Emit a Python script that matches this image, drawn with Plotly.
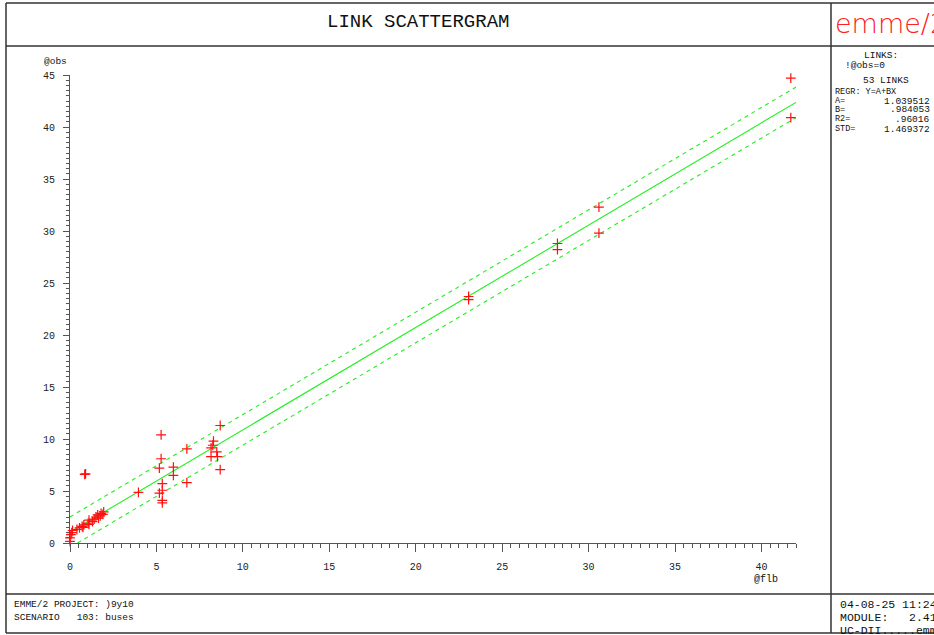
import plotly.graph_objects as go

# ---------------- data ----------------
flb = [41.7, 41.7, 30.6, 30.6, 28.2, 28.2, 23.06, 23.06,
       3.96,
       5.17, 5.27, 5.27, 5.17, 5.34, 5.34, 5.34, 5.34,
       5.98, 5.98, 6.76, 6.76,
       8.16, 8.16, 8.30, 8.26, 8.49, 8.53, 8.69, 8.69,
       0.85, 0.90,
       0.0, 0.0, 0.05, 0.10, 0.15, 0.40, 0.55, 0.70, 0.80, 0.75, 1.05,
       1.10, 1.10, 1.30, 1.40, 1.50, 1.60, 1.65, 1.75, 1.80, 1.90, 1.95]
obs = [44.7, 40.9, 32.3, 29.8, 28.8, 28.2, 23.7, 23.4,
       4.87,
       7.2, 10.4, 8.1, 4.8, 5.07, 5.7, 4.1, 3.85,
       7.3, 6.5, 9.05, 5.8,
       8.3, 9.15, 9.8, 9.4, 8.77, 8.3, 11.3, 7.06,
       6.6, 6.65,
       0.15, 0.5, 0.8, 1.0, 1.2, 1.3, 1.45, 1.6, 1.75, 1.5, 1.9,
       2.2, 1.8, 2.05, 2.3, 2.5, 2.7, 2.4, 2.6, 2.85, 2.75, 3.0]

REG_A = 1.039512
REG_B = 0.984053
REG_R2 = 0.96016
REG_STD = 1.469372
X_MAX = 42
Y_MAX = 45

x_ticks = [0, 5, 10, 15, 20, 25, 30, 35, 40]
y_ticks = [0, 5, 10, 15, 20, 25, 30, 35, 40, 45]

# ---------------- layout geometry (pixels) ----------------
W, H = 934, 635
L, R, T, B = 70, 796, 75, 543


def px(x):
    return (x - L) / (R - L)


def py(y):
    return (B - y) / (B - T)


fig = go.Figure()

# regression lines
green = "#22ee22"
fig.add_trace(go.Scatter(x=[0, X_MAX], y=[REG_A, REG_A + REG_B * X_MAX],
                         mode="lines", line=dict(color=green, width=1.1),
                         hoverinfo="skip", showlegend=False))
fig.add_trace(go.Scatter(x=[0, X_MAX], y=[REG_A + REG_STD, REG_A + REG_STD + REG_B * X_MAX],
                         mode="lines", line=dict(color=green, width=1.1, dash="4px,4px"),
                         hoverinfo="skip", showlegend=False))
x0_low = -(REG_A - REG_STD) / REG_B
fig.add_trace(go.Scatter(x=[x0_low, X_MAX], y=[0, REG_A - REG_STD + REG_B * X_MAX],
                         mode="lines", line=dict(color=green, width=1.1, dash="4px,4px"),
                         hoverinfo="skip", showlegend=False))

# points
fig.add_trace(go.Scatter(x=flb, y=obs, mode="markers", cliponaxis=False,
                         marker=dict(symbol="cross-thin", size=7,
                                     line=dict(color="#ff1010", width=1.2)),
                         showlegend=False))

mono = "Liberation Mono"
axis_common = dict(showgrid=False, zeroline=False, showline=True,
                   linecolor="#555", linewidth=1.2, ticks="outside",
                   tickcolor="#555", tickwidth=1.2,
                   tickfont=dict(family=mono, size=10, color="#222"))

fig.update_xaxes(range=[0, X_MAX], tickvals=x_ticks, ticklen=8,
                 minor=dict(dtick=0.5, tick0=0, ticklen=4, ticks="outside",
                            tickcolor="#555", tickwidth=1),
                 ticklabelstandoff=6, **axis_common)
fig.update_yaxes(range=[0, Y_MAX], tickvals=y_ticks, ticklen=6,
                 minor=dict(dtick=0.5, tick0=0, ticklen=3, ticks="outside",
                            tickcolor="#555", tickwidth=1),
                 ticklabelstandoff=6, **axis_common)

# frame lines
frame = "#333"
shapes = []


def hline(y, x0, x1, w=1.5, c=frame):
    shapes.append(dict(type="line", xref="paper", yref="paper",
                       x0=px(x0), x1=px(x1), y0=py(y), y1=py(y),
                       line=dict(color=c, width=w)))


def vline(x, y0, y1, w=1.5, c=frame):
    shapes.append(dict(type="line", xref="paper", yref="paper",
                       x0=px(x), x1=px(x), y0=py(y0), y1=py(y1),
                       line=dict(color=c, width=w)))


hline(3, 6, 934)
hline(46, 6, 934)
hline(594, 6, 934, w=2, c="#666")
hline(633, 6, 934)
vline(6, 3, 633)
vline(831, 3, 633)
fig.update_layout(shapes=shapes)

ann = []


def text(x, y, s, size=10, anchor="left", color="#111", family=mono, weight=None):
    f = dict(family=family, size=size, color=color)
    if weight:
        f["weight"] = weight
    ann.append(dict(xref="paper", yref="paper", x=px(x), y=py(y), text=s,
                    showarrow=False, xanchor=anchor, yanchor="middle", font=f))


text(418, 22, "LINK SCATTERGRAM", size=19, anchor="center")
text(833, 24, "emme/2", size=27, color="#ff2020", family="DejaVu Sans", weight=200)
text(881, 56, "LINKS:", size=9.5, anchor="center")
text(843, 65, "!@obs=0", size=9.5)
text(886, 81, "53 LINKS", size=9.5, anchor="center")
text(833, 92, "REGR: Y=A+BX", size=8.5)
text(833, 101, "A=", size=8.5)
text(932, 101, f"{REG_A:.6f}", size=9.5, anchor="right")
text(833, 110, "B=", size=8.5)
text(932, 110, f"{REG_B:.6f}".lstrip("0"), size=9.5, anchor="right")
text(833, 119, "R2=", size=8.5)
text(932, 119, f"{REG_R2:.5f}".lstrip("0"), size=9.5, anchor="right")
text(833, 129, "STD=", size=8.5)
text(932, 129, f"{REG_STD:.6f}", size=9.5, anchor="right")
text(42, 61, "@obs", size=9.5)
text(752, 579, "@flb", size=10)
text(12, 604, "EMME/2 PROJECT: )9y10", size=9.5)
text(12, 617, "SCENARIO   103: buses", size=9.5)
text(838, 604, "04-08-25 11:24", size=11.5)
text(838, 617, "MODULE:   2.41", size=11.5)
text(838, 630, "UC-DII.....emme2", size=11.5)

fig.update_layout(annotations=ann, width=W, height=H, autosize=False,
                  margin=dict(l=L, r=W - R, t=T, b=H - B, pad=0),
                  paper_bgcolor="white", plot_bgcolor="white",
                  showlegend=False)

fig.write_html("out.html", config={"displayModeBar": False},
               post_script="document.body.style.margin='0';document.body.style.overflow='hidden';")
